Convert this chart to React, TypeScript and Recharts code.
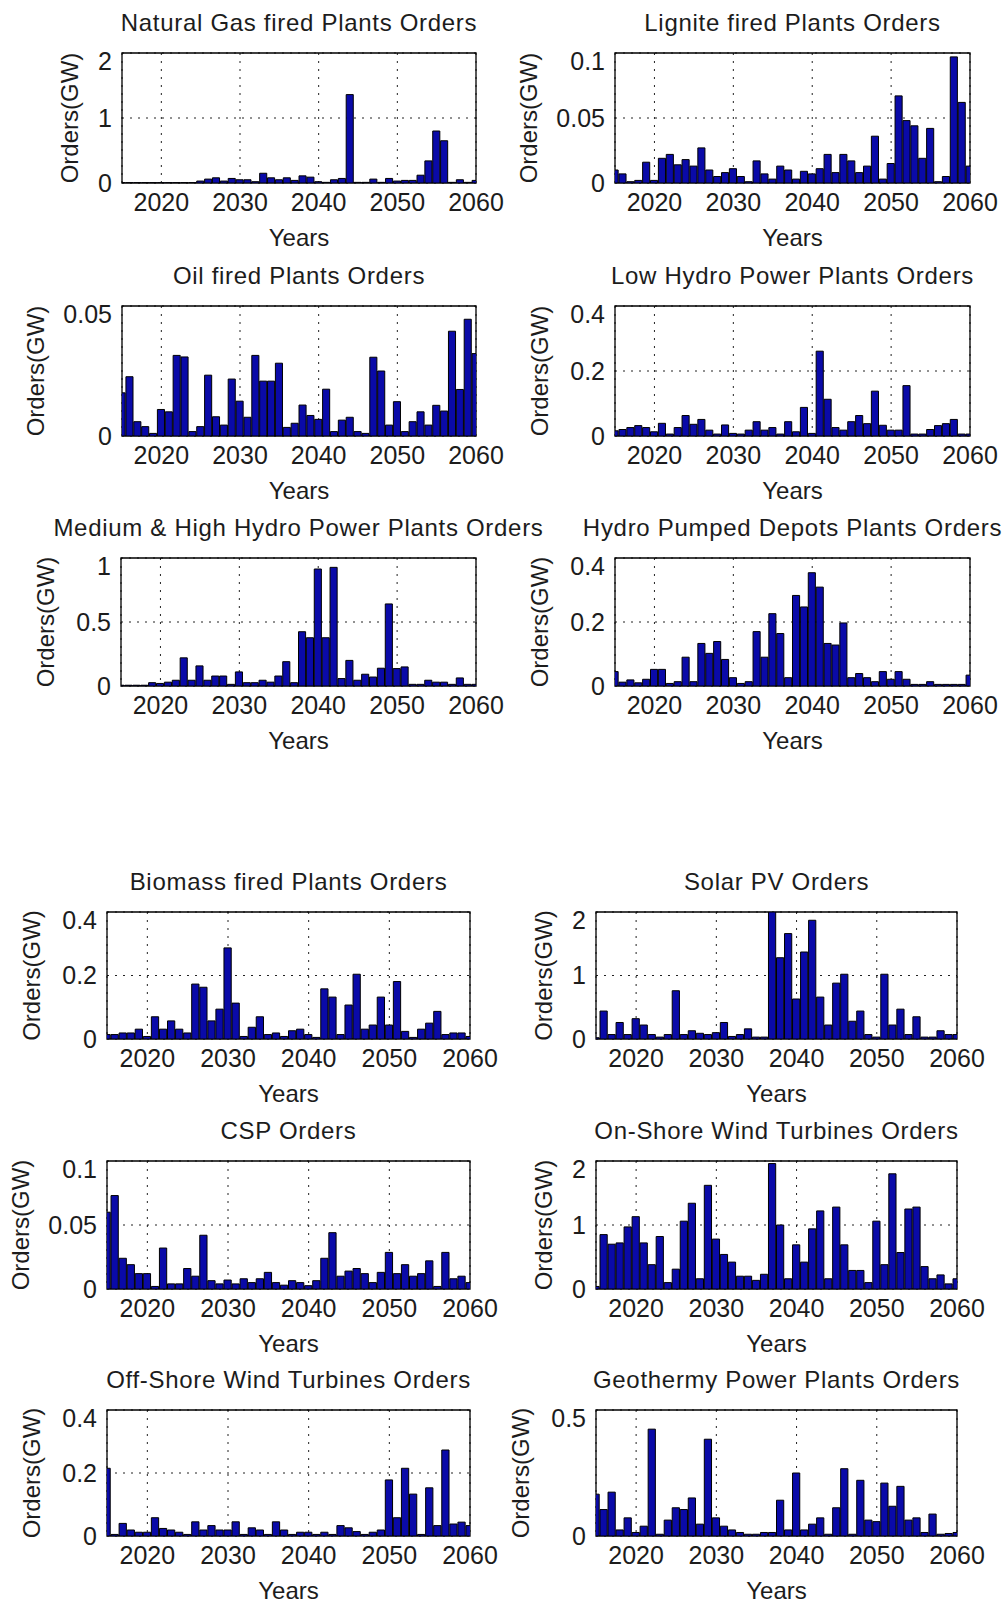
import { Bar, BarChart, CartesianGrid, ReferenceArea, XAxis, YAxis } from "recharts"

// order years, one bar per year (the axis runs 2015-2060, edge bars are half-clipped)
const years = [
  2015, 2016, 2017, 2018, 2019, 2020, 2021, 2022, 2023, 2024, 2025, 2026, 2027, 2028, 2029, 2030,
  2031, 2032, 2033, 2034, 2035, 2036, 2037, 2038, 2039, 2040, 2041, 2042, 2043, 2044, 2045, 2046,
  2047, 2048, 2049, 2050, 2051, 2052, 2053, 2054, 2055, 2056, 2057, 2058, 2059, 2060,
]
const yearTicks = [2020, 2030, 2040, 2050, 2060]

// orders in GW
const naturalGas = [
  0.005, 0.005, 0.005, 0.005, 0.005, 0.005, 0.005, 0.005, 0.005, 0.005, 0.03, 0.06, 0.08, 0.03, 0.07,
  0.05, 0.05, 0.02, 0.15, 0.08, 0.05, 0.08, 0.04, 0.11, 0.09, 0.02, 0.01, 0.05, 0.07, 1.36, 0.01, 0.01,
  0.06, 0.01, 0.07, 0.03, 0.04, 0.04, 0.12, 0.34, 0.8, 0.65, 0.01, 0.05, 0.01, 0.04,
]
const lignite = [
  0.01, 0.007, 0.001, 0.002, 0.016, 0.002, 0.019, 0.022, 0.014, 0.018, 0.013, 0.027, 0.01, 0.005, 0.008,
  0.011, 0.005, 0.001, 0.017, 0.007, 0.003, 0.013, 0.01, 0.003, 0.009, 0.007, 0.011, 0.022, 0.008, 0.022,
  0.017, 0.008, 0.013, 0.036, 0.003, 0.015, 0.067, 0.048, 0.044, 0.019, 0.042, 0.001, 0.005, 0.097, 0.062,
  0.013,
]
const oil = [
  0.0166, 0.0228, 0.0055, 0.0036, 0.001, 0.0102, 0.0093, 0.031, 0.0304, 0.0017, 0.0036, 0.0234, 0.0074,
  0.0042, 0.0219, 0.0134, 0.0072, 0.031, 0.0211, 0.0211, 0.028, 0.0033, 0.0049, 0.0119, 0.0079, 0.0064,
  0.018, 0.0017, 0.0061, 0.0072, 0.0017, 0.001, 0.0303, 0.025, 0.0042, 0.0132, 0.0017, 0.0055, 0.0093,
  0.0042, 0.0118, 0.0096, 0.0403, 0.0179, 0.0449, 0.0317,
]
const lowHydro = [
  0.016, 0.02, 0.026, 0.032, 0.026, 0.013, 0.039, 0.006, 0.026, 0.063, 0.036, 0.051, 0.018, 0.006, 0.034,
  0.008, 0.006, 0.018, 0.044, 0.018, 0.026, 0.006, 0.044, 0.013, 0.088, 0.008, 0.261, 0.113, 0.026, 0.018,
  0.044, 0.063, 0.038, 0.138, 0.033, 0.018, 0.018, 0.155, 0.006, 0.006, 0.02, 0.032, 0.038, 0.051, 0.006,
  0.006,
]
const mediumHighHydro = [
  0.006, 0.006, 0.006, 0.006, 0.026, 0.02, 0.03, 0.045, 0.22, 0.045, 0.157, 0.045, 0.078, 0.078, 0.013,
  0.11, 0.026, 0.026, 0.045, 0.03, 0.078, 0.19, 0.026, 0.424, 0.377, 0.914, 0.377, 0.927, 0.058, 0.2, 0.045,
  0.092, 0.07, 0.139, 0.641, 0.136, 0.149, 0.013, 0.013, 0.045, 0.03, 0.03, 0.013, 0.063, 0.013, 0.013,
]
const hydroPumped = [
  0.045, 0.012, 0.019, 0.01, 0.021, 0.052, 0.052, 0.008, 0.0135, 0.09, 0.0135, 0.133, 0.102, 0.139, 0.083,
  0.026, 0.008, 0.0135, 0.17, 0.09, 0.226, 0.164, 0.026, 0.283, 0.247, 0.354, 0.309, 0.133, 0.128, 0.197,
  0.026, 0.039, 0.026, 0.0135, 0.045, 0.021, 0.045, 0.021, 0.005, 0.005, 0.0135, 0.005, 0.005, 0.005, 0.005,
  0.034,
]
const biomass = [
  0.014, 0.014, 0.019, 0.019, 0.031, 0.008, 0.07, 0.031, 0.057, 0.031, 0.019, 0.173, 0.163, 0.057, 0.094,
  0.287, 0.113, 0.008, 0.037, 0.07, 0.014, 0.019, 0.008, 0.026, 0.031, 0.014, 0.005, 0.158, 0.132, 0.014,
  0.107, 0.204, 0.031, 0.044, 0.132, 0.044, 0.181, 0.024, 0.005, 0.031, 0.05, 0.087, 0.014, 0.019, 0.019,
  0.008,
]
const solarPv = [
  0.02, 0.44, 0.07, 0.26, 0.07, 0.32, 0.22, 0.07, 0.03, 0.07, 0.76, 0.07, 0.13, 0.09, 0.07, 0.1, 0.26, 0.04,
  0.07, 0.16, 0.03, 0.03, 2.0, 1.28, 1.66, 0.63, 1.37, 1.87, 0.66, 0.22, 0.88, 1.02, 0.28, 0.44, 0.07, 0.03,
  1.02, 0.22, 0.47, 0.07, 0.35, 0.03, 0.03, 0.13, 0.07, 0.07,
]
const csp = [
  0.06, 0.073, 0.024, 0.019, 0.012, 0.012, 0.002, 0.032, 0.004, 0.004, 0.016, 0.01, 0.042, 0.0065, 0.004,
  0.007, 0.004, 0.008, 0.005, 0.008, 0.013, 0.005, 0.003, 0.0065, 0.005, 0.0026, 0.0065, 0.024, 0.044, 0.01,
  0.014, 0.016, 0.012, 0.005, 0.013, 0.0286, 0.012, 0.019, 0.01, 0.012, 0.022, 0.002, 0.0286, 0.008, 0.01,
  0.005,
]
const onShoreWind = [
  0.04, 0.85, 0.7, 0.72, 0.97, 1.13, 0.72, 0.38, 0.82, 0.1, 0.31, 1.06, 1.34, 0.16, 1.62, 0.78, 0.54, 0.42,
  0.2, 0.2, 0.135, 0.23, 1.96, 1.0, 0.16, 0.69, 0.42, 0.94, 1.22, 0.16, 1.28, 0.69, 0.29, 0.29, 0.1, 1.06,
  0.38, 1.8, 0.57, 1.25, 1.28, 0.35, 0.16, 0.22, 0.08, 0.16,
]
const offShoreWind = [
  0.215, 0.005, 0.04, 0.019, 0.012, 0.012, 0.058, 0.024, 0.019, 0.012, 0.005, 0.045, 0.019, 0.033, 0.019,
  0.019, 0.045, 0.005, 0.026, 0.019, 0.005, 0.045, 0.019, 0.005, 0.012, 0.012, 0.005, 0.012, 0.005, 0.033,
  0.026, 0.014, 0.005, 0.012, 0.019, 0.178, 0.058, 0.215, 0.133, 0.005, 0.153, 0.033, 0.273, 0.038, 0.044,
  0.033,
]
const geothermy = [
  0.166, 0.105, 0.174, 0.024, 0.072, 0.014, 0.039, 0.424, 0.007, 0.063, 0.112, 0.105, 0.151, 0.047, 0.384,
  0.072, 0.039, 0.024, 0.014, 0.007, 0.007, 0.014, 0.014, 0.142, 0.024, 0.25, 0.024, 0.047, 0.072, 0.007,
  0.112, 0.267, 0.007, 0.221, 0.063, 0.057, 0.21, 0.118, 0.197, 0.063, 0.072, 0.014, 0.087, 0.007, 0.01,
  0.014,
]

const panels = [
  { title: "Natural Gas fired Plants Orders", values: naturalGas, yTicks: [0, 1, 2], left: 122, top: 53, width: 354, height: 130 },
  { title: "Lignite fired Plants Orders", values: lignite, yTicks: [0, 0.05, 0.1], left: 615, top: 53, width: 355, height: 130 },
  { title: "Oil fired Plants Orders", values: oil, yTicks: [0, 0.05], left: 122, top: 306, width: 354, height: 130 },
  { title: "Low Hydro Power Plants Orders", values: lowHydro, yTicks: [0, 0.2, 0.4], left: 615, top: 306, width: 355, height: 130 },
  { title: "Medium & High Hydro Power Plants Orders", values: mediumHighHydro, yTicks: [0, 0.5, 1], left: 121, top: 558, width: 355, height: 128 },
  { title: "Hydro Pumped Depots Plants Orders", values: hydroPumped, yTicks: [0, 0.2, 0.4], left: 615, top: 558, width: 355, height: 128 },
  { title: "Biomass fired Plants Orders", values: biomass, yTicks: [0, 0.2, 0.4], left: 107, top: 912, width: 363, height: 127 },
  { title: "Solar PV Orders", values: solarPv, yTicks: [0, 1, 2], left: 596, top: 912, width: 361, height: 127 },
  { title: "CSP Orders", values: csp, yTicks: [0, 0.05, 0.1], left: 107, top: 1161, width: 363, height: 128 },
  { title: "On-Shore Wind Turbines Orders", values: onShoreWind, yTicks: [0, 1, 2], left: 596, top: 1161, width: 361, height: 128 },
  { title: "Off-Shore Wind Turbines Orders", values: offShoreWind, yTicks: [0, 0.2, 0.4], left: 107, top: 1410, width: 363, height: 126 },
  { title: "Geothermy Power Plants Orders", values: geothermy, yTicks: [0, 0.5], left: 596, top: 1410, width: 361, height: 126 },
]

const TEXT = "#1c1c1c"
const PAD_L = 130
const PAD_T = 6
const PAD_R = 44
const PAD_B = 76
const Y_AXIS_W = 110
const X_AXIS_H = 70

type PanelProps = (typeof panels)[number]

function Panel({ title, values, yTicks, left, top, width, height }: PanelProps) {
  const data = years.map((year, i) => ({ year, orders: values[i] }))
  const yMax = yTicks[yTicks.length - 1]
  const barSize = width / (years[years.length - 1] - years[0])
  const longest = Math.max(...yTicks.map((t) => String(t).length))
  const labelDist = 41 + 11.5 * longest

  return (
    <div style={{ position: "absolute", left: left - PAD_L, top: top - PAD_T }}>
      <div
        style={{
          position: "absolute",
          left: PAD_L - 150,
          width: width + 300,
          top: PAD_T - 45,
          height: 30,
          lineHeight: "30px",
          textAlign: "center",
          fontSize: 24,
          letterSpacing: 0.7,
          color: TEXT,
          whiteSpace: "nowrap",
        }}
      >
        {title}
      </div>
      <BarChart
        width={width + PAD_L + PAD_R}
        height={height + PAD_T + PAD_B}
        data={data}
        margin={{ top: PAD_T, right: PAD_R, left: PAD_L - Y_AXIS_W, bottom: PAD_B - X_AXIS_H }}
        barCategoryGap={0}
        barGap={0}
      >
        <CartesianGrid stroke="#222" strokeDasharray="2 6" />
        <XAxis
          type="number"
          dataKey="year"
          domain={[2015, 2060]}
          ticks={yearTicks}
          allowDataOverflow
          tickLine={false}
          axisLine={false}
          tickSize={0}
          tickMargin={10}
          height={X_AXIS_H}
          tick={{ fill: TEXT, fontSize: 25 }}
          label={{ value: "Years", position: "insideBottom", offset: 7, fill: TEXT, fontSize: 24 }}
        />
        <YAxis
          type="number"
          domain={[0, yMax]}
          ticks={yTicks}
          allowDataOverflow
          tickLine={false}
          axisLine={false}
          tickSize={0}
          tickMargin={10}
          width={Y_AXIS_W}
          tick={{ fill: TEXT, fontSize: 25 }}
          label={{
            value: "Orders(GW)",
            angle: -90,
            position: "insideLeft",
            offset: Y_AXIS_W - labelDist,
            fill: TEXT,
            fontSize: 24,
            style: { textAnchor: "middle" },
          }}
        />
        <Bar dataKey="orders" fill="#0a0aa8" stroke="#000" strokeWidth={1} barSize={barSize} isAnimationActive={false} />
        <ReferenceArea x1={2015} x2={2060} y1={0} y2={yMax} fill="none" stroke="#000" strokeWidth={1.3} ifOverflow="visible" />
      </BarChart>
    </div>
  )
}

export default function App() {
  return (
    <div
      style={{
        position: "absolute",
        left: 0,
        top: 0,
        width: 1008,
        height: 1606,
        background: "#fff",
        fontFamily: '"Liberation Sans", Arial, sans-serif',
      }}
    >
      {panels.map((p) => (
        <Panel key={p.title} {...p} />
      ))}
    </div>
  )
}
